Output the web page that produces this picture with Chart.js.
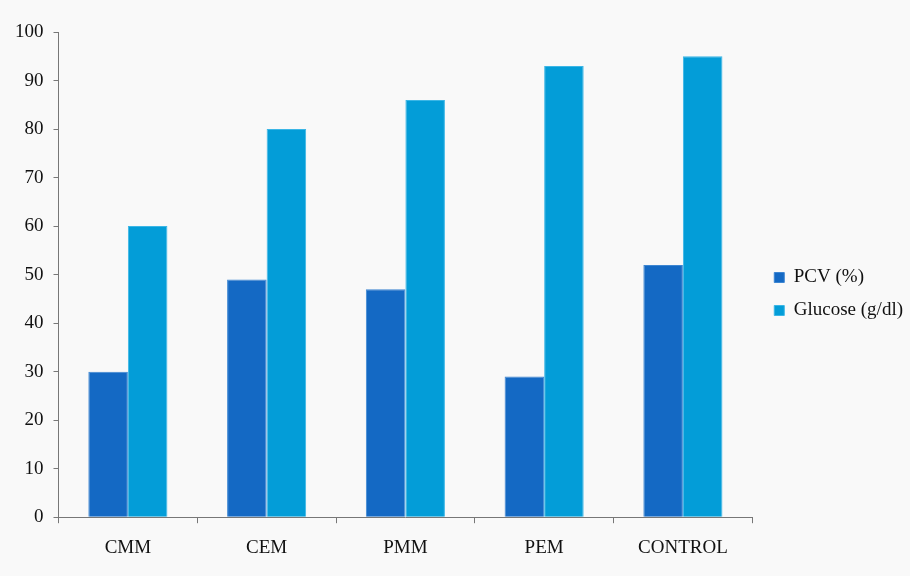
<!DOCTYPE html>
<html lang="en">
<head>
    <meta charset="UTF-8">
    <title>PCV and Glucose</title>
    <script src="https://cdn.jsdelivr.net/npm/chart.js"></script>
    <style>
        body {
            margin: 0;
            padding: 0;
            background-color: #f9f9f9;
        }
        #wrap {
            width: 910px;
            height: 576px;
        }
    </style>
</head>
<body>
    <div id="wrap"><canvas id="bloodChart"></canvas></div>

    <script>
        const groups = ['CMM', 'CEM', 'PMM', 'PEM', 'CONTROL'];
        const pcv = [30, 49, 47, 29, 52];
        const glucose = [60, 80, 86, 93, 95];

        const serif = "'Liberation Serif', 'Times New Roman', serif";
        Chart.defaults.font.family = serif;
        Chart.defaults.color = '#111';

        // nudge the legend a little up and right after layout
        const legendNudge = {
            id: 'legendNudge',
            afterLayout(chart) {
                const lg = chart.legend;
                if (!lg) return;
                lg.top -= 8; lg.bottom -= 8;
                lg.left += 8; lg.right += 8;
            }
        };

        new Chart(document.getElementById('bloodChart'), {
            type: 'bar',
            data: {
                labels: groups,
                datasets: [
                    {
                        label: 'PCV (%)',
                        data: pcv,
                        backgroundColor: '#1469c4',
                        borderColor: '#3d86d2',
                        borderWidth: 1
                    },
                    {
                        label: 'Glucose (g/dl)',
                        data: glucose,
                        backgroundColor: '#039dd8',
                        borderColor: '#3bb6e6',
                        borderWidth: 1
                    }
                ]
            },
            plugins: [legendNudge],
            options: {
                responsive: true,
                maintainAspectRatio: false,
                animation: false,
                layout: {
                    padding: { top: 32, left: 5, right: 5, bottom: 4 }
                },
                datasets: {
                    bar: {
                        categoryPercentage: 0.57,
                        barPercentage: 1.0
                    }
                },
                plugins: {
                    tooltip: { enabled: false },
                    legend: {
                        position: 'right',
                        labels: {
                            boxWidth: 10,
                            boxHeight: 10,
                            padding: 14,
                            font: { size: 19 }
                        }
                    }
                },
                scales: {
                    x: {
                        grid: {
                            drawOnChartArea: false,
                            tickLength: 6,
                            color: '#777'
                        },
                        border: { color: '#777' },
                        ticks: {
                            padding: 13,
                            font: { size: 19 }
                        }
                    },
                    y: {
                        min: 0,
                        max: 100,
                        grid: {
                            drawOnChartArea: false,
                            tickLength: 5,
                            color: '#777'
                        },
                        border: { color: '#777' },
                        ticks: {
                            stepSize: 10,
                            padding: 10,
                            font: { size: 19 }
                        }
                    }
                }
            }
        });
    </script>
</body>
</html>
